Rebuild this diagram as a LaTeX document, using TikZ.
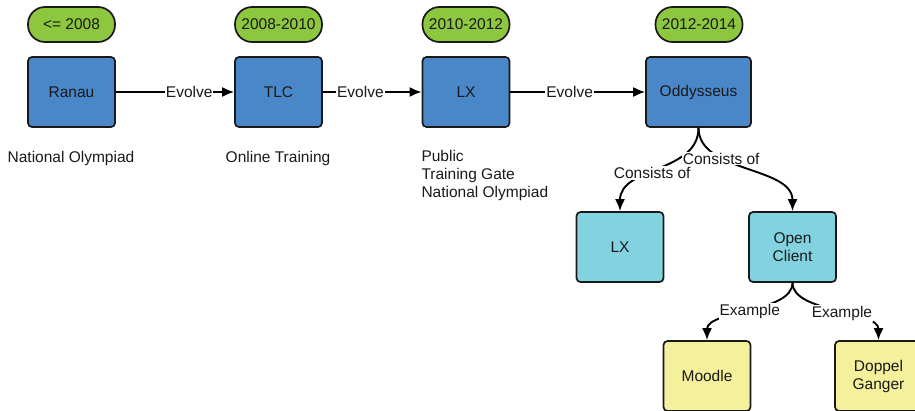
\documentclass[tikz,border=0pt]{standalone}
\usepackage{fontspec}
\setmainfont{Liberation Sans}
\usetikzlibrary{arrows.meta}
\definecolor{eragreen}{RGB}{141,198,63}
\definecolor{stageblue}{RGB}{74,135,200}
\definecolor{partcyan}{RGB}{131,210,224}
\definecolor{sampleyellow}{RGB}{245,240,155}
\begin{document}
\begin{tikzpicture}[x=1pt,y=-1pt,
  font=\fontsize{15.5}{18}\selectfont,
  every node/.style={text=black!90},
  era/.style={draw=black!90, fill=eragreen, rounded corners=17pt, minimum width=87pt, minimum height=35pt, line width=1.7pt, inner sep=0pt},
  stage/.style={draw=black!90, fill=stageblue, rounded corners=4pt, minimum width=87pt, minimum height=70pt, line width=1.7pt, inner sep=0pt, align=center},
  part/.style={stage, fill=partcyan},
  sample/.style={stage, fill=sampleyellow},
  link/.style={->, line width=1.9pt},
  tag/.style={fill=white, inner sep=1pt},
  >={Latex[length=12pt,width=10pt]}]
			\useasboundingbox (0,0) rectangle (915,410);
			\clip (0,0) rectangle (915,410);
			% periods
			\node[era] (y08) at (71.5,24.5) {<= 2008};
			\node[era] (y10) at (278.5,24.5) {2008-2010};
			\node[era] (y12) at (466,24.5) {2010-2012};
			\node[era] (y14) at (699,24.5) {2012-2014};
			% systems
			\node[stage] (ranau) at (71.5,92) {Ranau};
			\node[stage] (tlc) at (278.5,92) {TLC};
			\node[stage] (lx) at (466,92) {LX};
			\node[stage, minimum width=105pt] (odd) at (698.5,92) {Oddysseus};
			\node (ranaunote) at (71,158) {National Olympiad};
			\node (tlcnote) at (278,158) {Online Training};
			\node[align=left, anchor=west] (lxnote) at (418,175) {Public\\Training Gate\\National Olympiad};
			% parts
			\node[part] (lxpart) at (620,247) {LX};
			\node[part] (client) at (792.5,247) {Open\\Client};
			\node[sample] (moodle) at (707,376) {Moodle};
			\node[sample] (doppel) at (878.5,376) {Doppel\\Ganger};
			% links
			\draw[link] (ranau) -- node[tag, pos=0.62] {Evolve} (tlc);
			\draw[link] (tlc) -- node[tag, pos=0.38] {Evolve} (lx);
			\draw[link] (lx) -- node[tag, pos=0.44] {Evolve} (odd);
			\draw[link] (odd.south) .. controls +(0,45) and +(0,-45) .. node[tag, pos=0.56] {Consists of} (lxpart.north);
			\draw[link] (odd.south) .. controls +(0,45) and +(0,-45) .. node[tag, pos=0.32] {Consists of} (client.north);
			\draw[link] (client.south) .. controls +(0,30) and +(0,-30) .. node[tag, pos=0.5] {Example} (moodle.north);
			\draw[link] (client.south) .. controls +(0,30) and +(0,-30) .. node[tag, pos=0.55] {Example} (doppel.north);
\end{tikzpicture}
\end{document}
